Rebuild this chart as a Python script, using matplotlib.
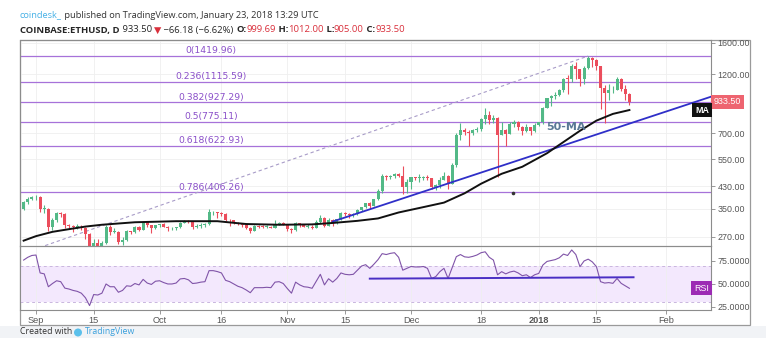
import matplotlib
matplotlib.use("Agg")
import matplotlib.pyplot as plt
import matplotlib.dates as mdates
from matplotlib.patches import Rectangle, Ellipse
from matplotlib.ticker import NullLocator
from matplotlib.transforms import Bbox, TransformedBbox
import pandas as pd

W, H, DPI = 766, 338, 100

# ---------------- daily ETHUSD candles (Aug 29, 2017 .. Jan 23, 2018) ----------------
first_day = "2017-08-29"
opens = [
    348, 372, 383,
    388, 390, 350, 350, 297, 315, 335, 332, 302, 298, 296, 296, 294, 278, 221,
    255, 248, 256, 297, 283, 283, 257, 263, 284, 282, 295, 288, 309, 301, 292,
    301, 303, 297, 292, 292, 295, 308, 311, 309, 297, 299, 302, 303, 338, 339,
    336, 334, 316, 314, 308, 303, 300, 294, 286, 298, 297, 296, 296, 294, 305, 306,
    303, 291, 287, 306, 300, 297, 297, 294, 309, 320, 299, 315, 307, 317, 337,
    333, 330, 332, 347, 354, 367, 360, 381, 410, 474, 466, 471, 480, 472, 428,
    447, 466, 463, 465, 470, 463, 428, 434, 456, 473, 440, 521, 690, 720, 705,
    700, 718, 728, 800, 826, 790, 806, 690, 720, 696, 760, 775, 740, 715, 738, 712,
    755, 772, 884, 962, 980, 997, 1041, 1153, 1148, 1299, 1255, 1154, 1273, 1396,
    1366, 1292, 1054, 1014, 1036, 1039, 1155, 1049, 999.69,
]
highs = [
    375, 390, 392,
    395, 393, 362, 352, 320, 338, 340, 335, 305, 301, 304, 302, 296, 280, 265,
    265, 260, 300, 300, 292, 285, 270, 287, 286, 298, 298, 311, 313, 302, 302,
    305, 306, 299, 295, 297, 310, 314, 315, 310, 303, 307, 306, 348, 342, 340,
    340, 335, 318, 315, 310, 306, 301, 296, 300, 300, 300, 300, 298, 315, 310, 310,
    305, 294, 310, 307, 303, 305, 300, 315, 330, 325, 320, 318, 318, 340, 338,
    335, 335, 348, 356, 370, 371, 383, 420, 480, 477, 475, 485, 485, 520, 460,
    470, 470, 480, 473, 475, 465, 440, 470, 490, 478, 530, 700, 770, 735, 720,
    725, 740, 805, 880, 860, 830, 812, 775, 725, 775, 790, 780, 745, 760, 740, 765,
    775, 890, 965, 990, 1020, 1045, 1160, 1190, 1320, 1340, 1260, 1290, 1419.96, 1410,
    1380, 1300, 1090, 1100, 1080, 1170, 1160, 1090, 1012,
]
lows = [
    345, 366, 378,
    380, 340, 335, 285, 287, 310, 323, 292, 290, 282, 290, 289, 265, 215, 197,
    240, 240, 254, 276, 279, 253, 250, 259, 277, 281, 285, 287, 296, 280, 290,
    296, 296, 286, 288, 289, 294, 306, 306, 290, 294, 294, 296, 302, 330, 320,
    328, 312, 298, 305, 300, 295, 290, 280, 284, 293, 294, 294, 292, 292, 302, 300,
    286, 279, 285, 296, 295, 294, 290, 292, 306, 295, 298, 298, 303, 316, 326,
    320, 325, 330, 344, 352, 350, 359, 380, 405, 455, 460, 462, 467, 400, 405,
    420, 455, 445, 455, 455, 420, 415, 425, 455, 420, 438, 512, 660, 690, 620,
    690, 705, 715, 760, 760, 765, 470, 685, 620, 695, 740, 720, 690, 710, 690, 710,
    745, 760, 880, 900, 955, 985, 1020, 1000, 1120, 1150, 1080, 1100, 1260, 1280,
    1250, 870, 770, 950, 1010, 1035, 1030, 950, 905,
]
closes = [
    372, 383, 388,
    390, 350, 350, 297, 315, 335, 332, 302, 298, 296, 296, 294, 278, 221, 255,
    248, 256, 297, 283, 283, 257, 263, 284, 282, 295, 288, 309, 301, 292, 301,
    303, 297, 292, 292, 295, 308, 311, 309, 297, 299, 302, 303, 338, 339, 336,
    334, 316, 314, 308, 303, 300, 294, 286, 298, 297, 296, 296, 294, 305, 306, 303,
    291, 287, 306, 300, 297, 297, 294, 309, 320, 299, 315, 307, 317, 337, 333,
    330, 332, 347, 354, 367, 360, 381, 410, 474, 466, 471, 480, 472, 428, 447,
    466, 463, 465, 470, 463, 428, 434, 456, 473, 440, 521, 690, 720, 705, 700,
    718, 728, 800, 826, 790, 806, 690, 720, 696, 760, 775, 740, 715, 738, 712, 755,
    772, 884, 962, 980, 997, 1041, 1153, 1148, 1299, 1255, 1154, 1273, 1396, 1366,
    1292, 1054, 1014, 1036, 1039, 1155, 1049, 1000, 933.50,
]

# RSI(14), one value per candle
rsi = [
    76, 79, 81,
    81.5, 62, 61, 47, 50.5, 53.5, 52.5, 45.5, 44.5, 43, 42, 40, 35, 26.5, 38.5,
    38, 40, 50, 47, 47, 41, 43, 48, 47.5, 50.5, 49, 55, 51, 49.5, 53,
    53.5, 51.5, 50, 50, 51, 55.5, 56, 54.5, 50.5, 51, 52, 52.5, 64.5, 64.5, 63.5,
    62, 54, 52.5, 50, 47.5, 46, 43.5, 40.5, 46, 46, 46, 46.4, 46, 52, 52.5, 50.5,
    45, 40, 52, 49, 47, 46.5, 45.3, 53, 60.5, 49, 55.7, 52, 56, 62, 60.5,
    60, 60.5, 65, 69.5, 71, 67, 71.5, 76.5, 83, 82, 83.3, 84, 79, 65, 67,
    69, 68.5, 68.5, 69, 67, 56, 58, 63.4, 67, 56, 68, 79.7, 82, 79.5, 79,
    80, 81.5, 84, 85, 79, 76, 60, 63.4, 61, 63, 64, 62, 59, 60, 57, 60,
    61.5, 70.6, 74.5, 75.5, 76.5, 78.5, 82.5, 81, 87, 82, 68.8, 75, 77, 74,
    68.8, 52.5, 51, 51.5, 50.7, 56, 50.7, 48, 45.3,
]

# 50-day moving average
ma_dates = ["2017-08-29", "2017-09-01", "2017-09-05", "2017-09-09", "2017-09-13",
            "2017-09-17", "2017-09-25", "2017-10-05", "2017-10-15", "2017-10-22",
            "2017-10-30", "2017-11-07", "2017-11-12", "2017-11-18", "2017-11-23",
            "2017-11-28", "2017-12-04", "2017-12-09", "2017-12-14", "2017-12-18",
            "2017-12-23", "2017-12-28", "2018-01-03", "2018-01-07", "2018-01-11",
            "2018-01-15", "2018-01-19", "2018-01-23"]
ma_values = [261, 272, 283, 290, 297, 302, 309, 312, 312, 304,
             302, 303, 307, 313, 320, 338, 355, 370, 403, 440,
             482, 514, 582, 645, 715, 785, 835, 865]

# Fibonacci retracement of the Jul 16 low -> Jan 13 high swing
fib_ratios = ["0", "0.236", "0.382", "0.5", "0.618", "0.786"]
fib_prices = [1419.96, 1115.59, 927.29, 775.11, 622.93, 406.26]
swing_dates = ["2017-07-16", "2018-01-13"]
swing_prices = [130.26, 1419.96]

# drawn trend lines
trend_dates = ["2017-11-12", "2018-02-12"]
trend_prices = [311, 980]
rsi_trend_dates = ["2017-11-21", "2018-01-24"]
rsi_trend_values = [55.8, 57.3]

price_ticks = [270, 350, 430, 550, 700, 1200, 1600]
rsi_ticks = [25, 50, 75]
time_ticks = ["2017-09-01", "2017-09-15", "2017-10-01", "2017-10-16", "2017-11-01",
              "2017-11-15", "2017-12-01", "2017-12-18", "2018-01-01", "2018-01-15",
              "2018-02-01"]
time_labels = ["Sep", "15", "Oct", "16", "Nov", "15", "Dec", "18", "2018", "15", "Feb"]
last_price = 933.50

# ---------------- figure ----------------
fig = plt.figure(figsize=(W / DPI, H / DPI), dpi=DPI)
fig.patch.set_facecolor("white")


def fx(px):
    return px / W


def fy(py):
    return 1 - py / H


def d(s):
    return mdates.date2num(pd.Timestamp(s))


fig.add_artist(Rectangle((0, 0), 1, fy(326), transform=fig.transFigure,
                         fc="#f1f3f6", ec="none", zorder=-6))
fig.add_artist(Rectangle((fx(20), fy(325)), fx(750) - fx(20), fy(40) - fy(325),
                         transform=fig.transFigure, fc="white", ec="#9a9a9a",
                         lw=0.9, zorder=-5))

ax = fig.add_axes([fx(20), fy(246), fx(711) - fx(20), fy(40) - fy(246)])
rax = fig.add_axes([fx(20), fy(310), fx(711) - fx(20), fy(246) - fy(310)], sharex=ax)
for a in (ax, rax):
    a.set_facecolor("none")
    a.set_axisbelow(True)
    for sp in a.spines.values():
        sp.set_color("#8c8c8c")
        sp.set_linewidth(0.8)

x = mdates.date2num(pd.date_range(first_day, periods=len(closes), freq="D"))
x0 = d("2017-09-01")
ax.set_xlim(x0 - 3.88, x0 + 163.8)

# ---------------- price panel ----------------
ax.set_yscale("log")
ax.set_ylim(248.5, 1644.6)

up_c, dn_c = "#53b987", "#eb4d5c"
cols = [up_c if c >= o else dn_c for o, c in zip(opens, closes)]
ax.vlines(x, lows, highs, colors=cols, lw=0.8, zorder=4)
body_lo = [min(o, c) for o, c in zip(opens, closes)]
body_h = [max(abs(c - o), 0.008 * c) for o, c in zip(opens, closes)]
ax.bar(x, body_h, bottom=body_lo, width=0.74, color=cols, lw=0, zorder=5)

fib_line = "#a772d9"
label_x = d("2017-10-13 12:00")
for r, p in zip(fib_ratios, fib_prices):
    ax.axhline(p, color=fib_line, lw=0.9, zorder=2)
    ax.annotate(f"{r}({p:.2f})", xy=(label_x, p), xytext=(0, 0.6),
                textcoords="offset points", ha="center", va="bottom",
                color="#8a4fc9", fontsize=6.7, family="DejaVu Sans", zorder=3)

ax.plot([d(s) for s in swing_dates], swing_prices, ls=(0, (3, 2.5)),
        color="#a89cc8", lw=0.8, zorder=3)
ax.plot([d(s) for s in trend_dates], trend_prices, color="#2f2fc8", lw=1.3, zorder=6)
ax.plot([d(s) for s in ma_dates], ma_values, color="#111111", lw=1.4, zorder=6)
ax.plot(d("2017-12-25") + 0.8, 404, marker="o", ms=1.6, color="#333333", zorder=6)

ax.text(d("2018-01-07") + 0.6, 740, "50-MA", ha="center", va="center", fontsize=8,
        fontweight="bold", color="#5a7896", family="DejaVu Sans", zorder=7)

ax.yaxis.tick_right()
ax.set_yticks(price_ticks)
ax.set_yticklabels([f"{v:.2f}" for v in price_ticks])
ax.yaxis.set_minor_locator(NullLocator())
ax.tick_params(axis="y", length=3, width=0.6, color="#888888", labelsize=6.4,
               labelcolor="#555555", pad=1.5)
for t in ax.get_yticklabels():
    t.set_family("Liberation Sans")
ax.tick_params(axis="x", length=0, labelbottom=False)
ax.grid(True, color="#efefef", lw=0.6)

ax.annotate(f"{last_price:.2f}", xy=(1, last_price), xycoords=("axes fraction", "data"),
            xytext=(1.8, 0), textcoords="offset points", ha="left", va="center",
            fontsize=6.4, color="white", family="Liberation Sans",
            bbox=dict(boxstyle="square,pad=0.3", fc="#ee6470", ec="none"),
            annotation_clip=False, zorder=8)
ax.annotate("MA", xy=(1, ma_values[-1]), xycoords=("axes fraction", "data"),
            xytext=(-1.5, 0), textcoords="offset points", ha="right", va="center",
            fontsize=6.4, color="white", family="Liberation Sans", fontweight="bold",
            bbox=dict(boxstyle="square,pad=0.3", fc="#111111", ec="none"), zorder=8)

# ---------------- RSI panel ----------------
rax.set_ylim(21.7, 91.3)
rax.axhspan(30, 70, color="#f3e8fd", lw=0, zorder=0)
for lvl in (30, 70):
    rax.axhline(lvl, color="#c9b6de", lw=0.7, ls=(0, (3, 3)), zorder=1)
rax.plot(x, rsi, color="#8054a8", lw=0.8, zorder=3)
rax.plot([d(s) for s in rsi_trend_dates], rsi_trend_values, color="#4a2fc4", lw=1.4, zorder=4)

rax.yaxis.tick_right()
rax.set_yticks(rsi_ticks)
rax.set_yticklabels([f"{v:.4f}" for v in rsi_ticks])
rax.tick_params(axis="y", length=3, width=0.6, color="#888888", labelsize=6.4,
                labelcolor="#555555", pad=1.5)
clip = TransformedBbox(Bbox([[0, fy(310)], [1, 1]]), fig.transFigure)
for t in rax.get_yticklabels():
    t.set_family("Liberation Sans")
    t.set_clip_box(clip)
    t.set_clip_on(True)

rax.set_xticks([d(s) for s in time_ticks])
rax.set_xticklabels(time_labels)
rax.tick_params(axis="x", length=3, width=0.6, color="#888888", labelsize=6.6,
                labelcolor="#555555", pad=1.2)
for t in rax.get_xticklabels():
    t.set_family("Liberation Sans")
    if t.get_text() == "2018":
        t.set_fontweight("bold")
rax.grid(True, axis="x", color="#efefef", lw=0.6)

rax.annotate("RSI", xy=(1, rsi[-1]), xycoords=("axes fraction", "data"),
             xytext=(-1.5, 0), textcoords="offset points", ha="right", va="center",
             fontsize=6.4, color="white", family="Liberation Sans",
             bbox=dict(boxstyle="square,pad=0.3", fc="#9c2bb4", ec="none"), zorder=8)

# ---------------- header ----------------
renderer = fig.canvas.get_renderer()
header_fonts = ["Open Sans", "DejaVu Sans"]


def text_row(pieces, px0, pyc, target_w):
    def place(size):
        cur = px0
        made = []
        for s, color, weight in pieces:
            t = fig.text(fx(cur), fy(pyc), s, fontsize=size, color=color,
                         fontweight=weight, family=header_fonts, ha="left", va="center")
            cur += t.get_window_extent(renderer=renderer).width
            made.append(t)
        return made, cur - px0

    made, width = place(10)
    for t in made:
        t.remove()
    place(10 * target_w / width)


dark, red = "#262626", "#d9303c"
text_row([("coindesk_", "#47b1e6", "normal"),
          (" published on TradingView.com, January 23, 2018 13:29 UTC", "#333333", "normal")],
         20, 15, 302)
text_row([("COINBASE:ETHUSD, D", dark, "bold"),
          (" 933.50 ", dark, "normal"),
          ("\u25bc", red, "normal"),
          (" \u221266.18 (\u22126.62%) ", dark, "normal"),
          ("O:", dark, "bold"), ("999.69", red, "normal"),
          (" H:", dark, "bold"), ("1012.00", red, "normal"),
          (" L:", dark, "bold"), ("905.00", red, "normal"),
          (" C:", dark, "bold"), ("933.50", red, "normal")],
         20, 30, 384)

# ---------------- footer ----------------
fig.text(fx(20), fy(327.5), "Created with", fontsize=6.3, color="#333333",
         family=header_fonts, va="top", ha="left")
fig.add_artist(Ellipse((fx(78), fy(332.5)), 8 / W, 8 / H, transform=fig.transFigure,
                       fc="#5bc0eb", ec="none"))
fig.text(fx(85), fy(327.5), "TradingView", fontsize=6.3, color="#3aa0dc",
         family=header_fonts, va="top", ha="left")

fig.savefig("out.png", dpi=DPI, facecolor=fig.get_facecolor())
